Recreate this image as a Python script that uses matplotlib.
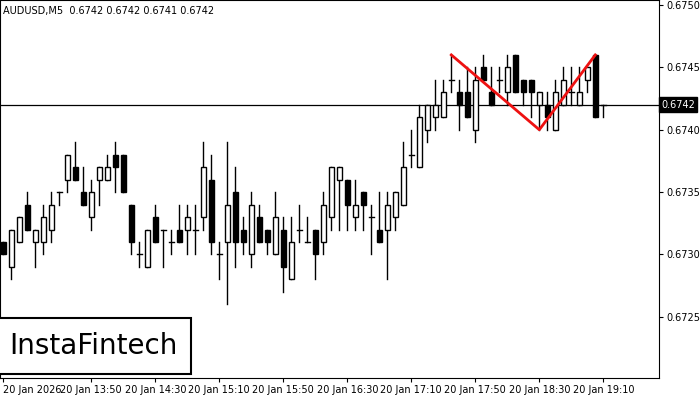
import matplotlib
matplotlib.use("Agg")
import matplotlib.pyplot as plt
from matplotlib.patches import Rectangle

# AUDUSD M5 candles (pip units above 0.6700)
opens = [31, 29, 31, 34, 31, 31, 32, 35, 36, 37, 35, 33, 36, 36, 38, 38, 34, 30, 29, 33,
         32, 31, 32, 32, 32, 33, 36, 30, 31, 35, 32, 30, 33, 32, 30, 32, 28, 32, 31, 32,
         31, 33, 36, 36, 33, 35, 33, 32, 32, 33, 34, 38, 37, 40, 41, 41, 44, 43, 43, 40,
         45, 43, 44, 43, 46, 44, 44, 42, 42, 40, 42, 43, 42, 44, 46, 42]
highs = [31, 32, 33, 35, 32, 34, 35, 35, 38, 39, 37, 36, 37, 38, 39, 38, 34, 31, 32, 34,
         32, 32, 34, 34, 34, 39, 38, 31, 39, 37, 33, 35, 34, 32, 35, 33, 33, 34, 33, 32,
         35, 37, 37, 36, 36, 35, 34, 35, 35, 35, 39, 40, 42, 42, 44, 44, 46, 44, 45, 45,
         46, 45, 45, 46, 46, 44, 44, 43, 43, 44, 45, 45, 45, 45, 46, 42]
lows = [30, 28, 31, 32, 29, 30, 31, 34, 35, 36, 34, 32, 34, 36, 35, 35, 30, 29, 29, 31,
        29, 30, 31, 30, 30, 32, 30, 28, 26, 29, 30, 29, 31, 30, 30, 27, 28, 31, 31, 28,
        30, 32, 32, 32, 32, 32, 30, 31, 28, 32, 34, 37, 37, 39, 40, 41, 43, 40, 41, 39,
        44, 42, 43, 42, 43, 42, 41, 40, 40, 40, 42, 42, 42, 43, 41, 41]
closes = [30, 32, 33, 32, 32, 33, 34, 35, 38, 36, 34, 35, 37, 37, 37, 35, 31, 30, 32, 31,
          32, 31, 31, 33, 32, 37, 31, 30, 34, 31, 31, 34, 31, 31, 33, 29, 31, 32, 31, 30,
          34, 37, 37, 34, 34, 34, 33, 31, 34, 35, 37, 38, 41, 42, 42, 43, 44, 42, 41, 44,
          44, 42, 44, 45, 43, 43, 43, 43, 41, 43, 44, 43, 43, 45, 41, 42]

# double top pattern: candle index, price
pattern_idx = [56, 67, 74]
pattern_px = [0.6746, 0.6740, 0.6746]

time_idx = [0, 11, 19, 27, 35, 43, 51, 59, 67, 75]
time_labels = ["20 Jan 2026", "20 Jan 13:50", "20 Jan 14:30", "20 Jan 15:10", "20 Jan 15:50",
               "20 Jan 16:30", "20 Jan 17:10", "20 Jan 17:50", "20 Jan 18:30", "20 Jan 19:10"]
price_ticks = [0.6725, 0.6730, 0.6735, 0.6740, 0.6745, 0.6750]
last_price = 0.6742

fig = plt.figure(figsize=(7, 4), dpi=100)
ax = fig.add_axes([0, 22 / 400, 659 / 700, 378 / 400])

w = 0.62
for i, (o, h, l, c) in enumerate(zip(opens, highs, lows, closes)):
    o, h, l, c = [0.67 + v / 10000 for v in (o, h, l, c)]
    ax.plot([i, i], [l, h], color="black", linewidth=1, zorder=2)
    lo, hi = min(o, c), max(o, c)
    if hi - lo < 1e-9:
        ax.plot([i - w / 2, i + w / 2], [o, o], color="black", linewidth=1, zorder=3)
    else:
        face = "white" if c > o else "black"
        ax.add_patch(Rectangle((i - w / 2, lo), w, hi - lo, facecolor=face,
                               edgecolor="black", linewidth=1, zorder=3))

ax.axhline(last_price, color="black", linewidth=0.9, zorder=1)
ax.plot(pattern_idx, pattern_px, color="#ee1111", linewidth=2, zorder=4)

ax.set_xlim(-0.41, 81.96)
ax.set_ylim(0.67201, 0.67504)
ax.yaxis.tick_right()
ax.set_yticks(price_ticks)
ax.set_yticklabels([f"{p:.4f}" for p in price_ticks], fontsize=7)
ax.set_xticks(time_idx)
ax.set_xticklabels(time_labels, fontsize=7)
ax.get_xticklabels()[0].set_horizontalalignment("left")
ax.tick_params(length=3, pad=2)

ax.text(1.003, (last_price - 0.67201) / (0.67504 - 0.67201), "0.6742", transform=ax.transAxes,
        fontsize=7, color="white", va="center", ha="left",
        bbox=dict(boxstyle="square,pad=0.25", facecolor="black", edgecolor="black"))

ax.text(0.005, 0.985, "AUDUSD,M5  0.6742 0.6742 0.6741 0.6742", transform=ax.transAxes,
        fontsize=7, va="top", ha="left")

fig.text(9 / 700, 1 - 346 / 400, "InstaFintech", fontsize=20, va="center", ha="left",
         bbox=dict(boxstyle="square,pad=0.5", facecolor="white", edgecolor="black", linewidth=1.5))

fig.savefig("out.png", dpi=100)
